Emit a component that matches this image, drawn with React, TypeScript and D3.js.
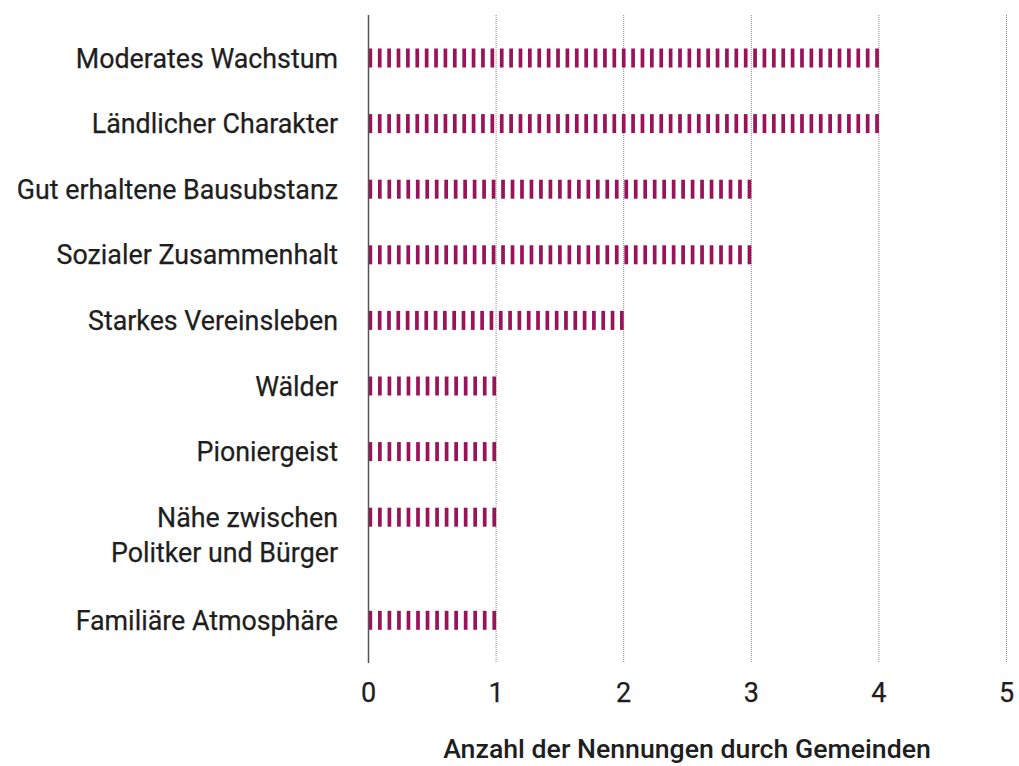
import React from "react"
import * as d3 from "d3"

const categories = [
    ["Moderates Wachstum"],
    ["Ländlicher Charakter"],
    ["Gut erhaltene Bausubstanz"],
    ["Sozialer Zusammenhalt"],
    ["Starkes Vereinsleben"],
    ["Wälder"],
    ["Pioniergeist"],
    ["Nähe zwischen", "Politker und Bürger"],
    ["Familiäre Atmosphäre"],
]
const values = [4, 4, 3, 3, 2, 1, 1, 1, 1]
const ticks = [0, 1, 2, 3, 4, 5]
const axisTitle = "Anzahl der Nennungen durch Gemeinden"

const W = 1019
const H = 766
const FONT = "Roboto, 'Noto Sans', sans-serif"
const BAR = "#9a1257"

const App = () => {
    const x = d3.scaleLinear().domain([0, 5]).range([368.5, 1006.5])
    const plotTop = 15
    const plotBottom = 663
    const rowGap = 65.6
    const lineH = 35.5
    const barH = 19
    const stripeW = 3.7

    // cumulative row centres; multi-line labels push the next row down
    const centres: number[] = []
    let cur = 58
    categories.forEach((lines) => {
        centres.push(cur)
        cur += rowGap + (lines.length - 1) * lineH + (lines.length > 1 ? 2 : 0)
    })

    // stripes for a bar, spread so the last one ends on the bar's end
    const stripes = (v: number) => {
        const w = x(v) - x(0) - stripeW
        const n = Math.round(w / 9.45)
        return d3.range(n + 1).map((k) => x(0) + (w * k) / n)
    }

    return (
        <svg width={W} height={H} style={{ position: "absolute", left: 0, top: 0 }}>
            <rect width={W} height={H} fill="#fff" />
            {ticks.filter((t) => t > 0).map((t) => (
                <line
                    key={t}
                    x1={x(t)}
                    x2={x(t)}
                    y1={plotTop}
                    y2={plotBottom}
                    stroke="#888"
                    strokeWidth={1}
                    strokeDasharray="1,1"
                />
            ))}
            {values.map((v, i) => (
                <g key={i}>
                    {stripes(v).map((sx, k) => (
                        <rect
                            key={k}
                            x={sx}
                            y={centres[i] - barH / 2}
                            width={stripeW}
                            height={barH}
                            fill={BAR}
                        />
                    ))}
                </g>
            ))}
            <line x1={x(0)} x2={x(0)} y1={plotTop} y2={plotBottom} stroke="#555" strokeWidth={1.5} />
            {categories.map((lines, i) => (
                <text
                    key={i}
                    x={338}
                    textAnchor="end"
                    fontFamily={FONT}
                    fontSize={26.8}
                    fill="#1e1e1e"
                    stroke="#1e1e1e"
                    strokeWidth={0.25}
                >
                    {lines.map((l, j) => (
                        <tspan key={j} x={338} y={centres[i] + 9.5 + j * lineH}>
                            {l}
                        </tspan>
                    ))}
                </text>
            ))}
            {ticks.map((t) => (
                <text
                    key={t}
                    x={x(t)}
                    y={702}
                    textAnchor="middle"
                    fontFamily={FONT}
                    fontSize={27}
                    fill="#1e1e1e"
                    stroke="#1e1e1e"
                    strokeWidth={0.25}
                >
                    {t}
                </text>
            ))}
            <text
                x={687}
                y={758}
                textAnchor="middle"
                fontFamily={FONT}
                fontSize={26.7}
                fontWeight={500}
                fill="#1e1e1e"
            >
                {axisTitle}
            </text>
        </svg>
    )
}

export default App
